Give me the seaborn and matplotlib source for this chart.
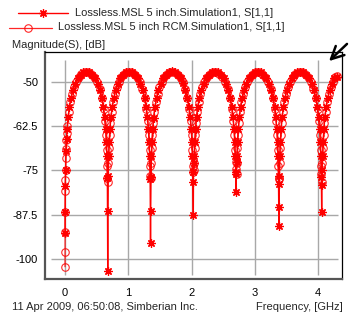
import matplotlib
matplotlib.use("Agg")
import matplotlib.pyplot as plt
from matplotlib.lines import Line2D
import pandas as pd
import seaborn as sns

# ---------------- data ----------------
label_msl = "Lossless.MSL 5 inch.Simulation1, S[1,1]"
label_rcm = "Lossless.MSL 5 inch RCM.Simulation1, S[1,1]"

freq_msl = [
    0.0012, 0.0023, 0.005, 0.009, 0.016, 0.024, 0.034, 0.050, 0.070, 0.095, 0.125, 0.160, 0.200, 0.245, 0.290,
    0.338, 0.386, 0.431, 0.476, 0.516, 0.551, 0.581, 0.606, 0.626, 0.642, 0.654, 0.662, 0.669, 0.675,
    0.678, 0.683, 0.690, 0.698, 0.710, 0.726, 0.746, 0.771, 0.801, 0.836, 0.876, 0.921, 0.966, 1.014, 1.062,
    1.107, 1.152, 1.192, 1.227, 1.257, 1.282, 1.302, 1.318, 1.330, 1.338, 1.345, 1.351,
    1.354, 1.359, 1.366, 1.374, 1.386, 1.402, 1.422, 1.447, 1.477, 1.512, 1.552, 1.597, 1.642, 1.690, 1.738,
    1.783, 1.828, 1.868, 1.903, 1.933, 1.958, 1.978, 1.994, 2.006, 2.014, 2.021, 2.027,
    2.030, 2.035, 2.042, 2.050, 2.062, 2.078, 2.098, 2.123, 2.153, 2.188, 2.228, 2.273, 2.318, 2.366, 2.414,
    2.459, 2.504, 2.544, 2.579, 2.609, 2.634, 2.654, 2.670, 2.682, 2.690, 2.697, 2.703,
    2.707, 2.711, 2.718, 2.726, 2.738, 2.754, 2.774, 2.799, 2.829, 2.864, 2.904, 2.949, 2.994, 3.042, 3.090,
    3.135, 3.180, 3.220, 3.255, 3.285, 3.310, 3.330, 3.346, 3.358, 3.366, 3.373, 3.379,
    3.382, 3.387, 3.394, 3.402, 3.414, 3.430, 3.450, 3.475, 3.505, 3.540, 3.580, 3.625, 3.670, 3.718, 3.766,
    3.811, 3.856, 3.896, 3.931, 3.961, 3.986, 4.006, 4.022, 4.034, 4.042, 4.049, 4.055,
    4.058, 4.063, 4.070, 4.078, 4.090, 4.106, 4.126, 4.151, 4.181, 4.216, 4.256, 4.292,
]
mag_msl = [
    -92.7, -86.6, -79.5, -74.9, -69.6, -66.2, -63.3, -60.0, -57.1, -54.6, -52.4, -50.6, -49.1, -48.0, -47.4,
    -47.2, -47.4, -48.0, -49.1, -50.6, -52.4, -54.6, -57.1, -60.0, -63.3, -67.0, -70.9, -77.0, -103.3,
    -86.4, -76.5, -70.9, -67.0, -63.3, -60.0, -57.1, -54.6, -52.4, -50.6, -49.1, -48.0, -47.4, -47.2, -47.4,
    -48.0, -49.1, -50.6, -52.4, -54.6, -57.1, -60.0, -63.3, -67.0, -70.9, -77.5, -95.3,
    -86.3, -76.8, -70.8, -67.1, -63.2, -60.1, -57.0, -54.6, -52.3, -50.6, -49.0, -48.0, -47.3, -47.1, -47.3,
    -48.0, -49.1, -50.5, -52.4, -54.5, -57.1, -60.0, -63.4, -67.0, -70.9, -78.1, -87.5,
    -75.5, -73.0, -70.9, -67.0, -63.3, -60.0, -57.1, -54.6, -52.4, -50.6, -49.1, -48.0, -47.4, -47.2, -47.4,
    -48.0, -49.1, -50.6, -52.4, -54.6, -57.1, -60.0, -63.3, -67.0, -70.9, -76.0, -81.1,
    -75.5, -72.5, -70.9, -67.0, -63.3, -60.0, -57.1, -54.6, -52.4, -50.6, -49.1, -48.0, -47.4, -47.2, -47.4,
    -48.0, -49.1, -50.6, -52.4, -54.6, -57.1, -60.0, -63.3, -67.0, -70.9, -78.9, -90.5,
    -85.2, -76.5, -70.9, -67.0, -63.3, -60.0, -57.1, -54.6, -52.4, -50.6, -49.1, -48.0, -47.4, -47.2, -47.4,
    -48.0, -49.1, -50.6, -52.4, -54.6, -57.1, -60.0, -63.3, -67.0, -70.9, -76.8, -86.6,
    -79.0, -75.0, -70.9, -67.0, -63.3, -60.0, -57.1, -54.6, -52.4, -50.6, -49.1, -48.7,
]

freq_rcm = [
    0.0004, 0.0006, 0.0012, 0.0023, 0.0045, 0.0065, 0.009, 0.013, 0.0175, 0.023, 0.029, 0.037,
    0.060, 0.083, 0.110, 0.140, 0.175, 0.215, 0.260, 0.310, 0.360, 0.410, 0.460, 0.505, 0.545, 0.580,
    0.610, 0.632, 0.648, 0.659, 0.666, 0.671,
    0.682, 0.687, 0.694, 0.704, 0.718, 0.736, 0.759, 0.786, 0.816, 0.851, 0.891, 0.936, 0.986, 1.036, 1.086,
    1.136, 1.181, 1.221, 1.256, 1.286, 1.308, 1.324, 1.335, 1.342, 1.347,
    1.358, 1.363, 1.370, 1.380, 1.394, 1.412, 1.435, 1.462, 1.492, 1.527, 1.567, 1.612, 1.662, 1.712, 1.762,
    1.812, 1.857, 1.897, 1.932, 1.962, 1.984, 2.000, 2.011, 2.018, 2.023,
    2.034, 2.039, 2.046, 2.056, 2.070, 2.088, 2.111, 2.138, 2.168, 2.203, 2.243, 2.288, 2.338, 2.388, 2.438,
    2.488, 2.533, 2.573, 2.608, 2.638, 2.660, 2.676, 2.687, 2.694, 2.699,
    2.710, 2.715, 2.722, 2.732, 2.746, 2.764, 2.787, 2.814, 2.844, 2.879, 2.919, 2.964, 3.014, 3.064, 3.114,
    3.164, 3.209, 3.249, 3.284, 3.314, 3.336, 3.352, 3.363, 3.370, 3.375,
    3.386, 3.391, 3.398, 3.408, 3.422, 3.440, 3.463, 3.490, 3.520, 3.555, 3.595, 3.640, 3.690, 3.740, 3.790,
    3.840, 3.885, 3.925, 3.960, 3.990, 4.012, 4.028, 4.039, 4.046, 4.051,
    4.062, 4.067, 4.074, 4.084, 4.098, 4.116, 4.139, 4.166, 4.196, 4.231, 4.271, 4.290,
]
mag_rcm = [
    -102.1, -97.9, -92.2, -86.6, -80.9, -77.6, -74.8, -71.5, -69.0, -66.5, -64.5, -62.6,
    -58.4, -55.7, -53.4, -51.6, -50.0, -48.7, -47.8, -47.3, -47.25, -47.7, -48.7, -50.1, -52.1, -54.5,
    -57.6, -61.1, -64.9, -69.3, -73.8, -77.0,
    -78.3, -73.0, -68.8, -64.9, -61.5, -58.4, -55.7, -53.4, -51.6, -50.0, -48.7, -47.8, -47.3, -47.25, -47.7,
    -48.7, -50.1, -52.1, -54.5, -57.6, -61.1, -64.9, -69.3, -73.8, -76.5,
    -77.0, -73.0, -68.8, -64.9, -61.5, -58.4, -55.7, -53.4, -51.6, -50.0, -48.7, -47.8, -47.3, -47.25, -47.7,
    -48.7, -50.1, -52.1, -54.5, -57.6, -61.1, -64.9, -69.3, -73.8, -75.5,
    -75.0, -73.0, -68.8, -64.9, -61.5, -58.4, -55.7, -53.4, -51.6, -50.0, -48.7, -47.8, -47.3, -47.25, -47.7,
    -48.7, -50.1, -52.1, -54.5, -57.6, -61.1, -64.9, -69.3, -72.5, -74.5,
    -76.0, -73.0, -68.8, -64.9, -61.5, -58.4, -55.7, -53.4, -51.6, -50.0, -48.7, -47.8, -47.3, -47.25, -47.7,
    -48.7, -50.1, -52.1, -54.5, -57.6, -61.1, -64.9, -69.3, -73.8, -77.0,
    -77.5, -73.0, -68.8, -64.9, -61.5, -58.4, -55.7, -53.4, -51.6, -50.0, -48.7, -47.8, -47.3, -47.25, -47.7,
    -48.7, -50.1, -52.1, -54.5, -57.6, -61.1, -64.9, -69.3, -73.8, -76.0,
    -78.3, -73.0, -68.8, -64.9, -61.5, -58.4, -55.7, -53.4, -51.6, -50.0, -48.7, -48.5,
]

x_ticks = [0, 1, 2, 3, 4]
x_tick_labels = ["0", "1", "2", "3", "4"]
y_ticks = [-50, -62.5, -75, -87.5, -100]
y_tick_labels = ["-50", "-62.5", "-75", "-87.5", "-100"]

y_title = "Magnitude(S), [dB]"
x_title = "Frequency, [GHz]"
footer = "11 Apr 2009, 06:50:08, Simberian Inc."

# ---------------- styling ----------------
sns.set_style("white")
plt.rcParams["font.family"] = ["Liberation Sans", "DejaVu Sans"]
plt.rcParams["axes.unicode_minus"] = False
FS = 8

W, H = 349, 317
fig = plt.figure(figsize=(W / 100, H / 100), dpi=100)
ax = fig.add_axes([45 / W, 1 - 279 / H, (342 - 45) / W, (279 - 52) / H])

RED = "#ff0000"
style_rcm = dict(color=RED, lw=0.9, marker="o", markersize=5.4, markerfacecolor="none",
                 markeredgecolor=RED, markeredgewidth=0.8, alpha=0.85)
style_msl = dict(color=RED, lw=1.0, marker=(8, 2, 0), markersize=6,
                 markeredgecolor=RED, markeredgewidth=0.9)

df_rcm = pd.DataFrame({"f": freq_rcm, "m": mag_rcm})
df_msl = pd.DataFrame({"f": freq_msl, "m": mag_msl})

sns.lineplot(data=df_rcm, x="f", y="m", ax=ax, estimator=None, sort=False, legend=False, **style_rcm)
sns.lineplot(data=df_msl, x="f", y="m", ax=ax, estimator=None, sort=False, legend=False, **style_msl)

ax.set_xlim(-0.316, 4.376)
ax.set_ylim(-105.55, -41.64)

# inset grid lines
GRID = "#a8a8a8"
ax.vlines(x_ticks, -104.4, -43.9, colors=GRID, lw=1.0, zorder=0)
ax.hlines(y_ticks, -0.221, 4.313, colors=GRID, lw=1.0, zorder=0)

ax.set_xticks(x_ticks)
ax.set_xticklabels(x_tick_labels, fontsize=FS)
ax.set_yticks(y_ticks)
ax.set_yticklabels(y_tick_labels, fontsize=FS)
ax.tick_params(axis="both", direction="inout", length=5, width=0.9, color="#222222",
               labelcolor="black", pad=2.5)
ax.tick_params(axis="x", pad=4)
ax.set_xlabel("")
ax.set_ylabel("")
for side in ["left", "bottom"]:
    ax.spines[side].set_color("#555555")
    ax.spines[side].set_linewidth(1.6)
for side in ["top", "right"]:
    ax.spines[side].set_color("black")
    ax.spines[side].set_linewidth(0.9)

# legend entries, drawn as in the original (each entry centred)
def legend_entry(x0, x1, xm, y, style, text, xt):
    yy = 1 - y / H
    line_style = {k: v for k, v in style.items() if not k.startswith("marker")}
    fig.add_artist(Line2D([x0 / W, x1 / W], [yy, yy], transform=fig.transFigure, **line_style))
    mk = dict(style)
    mk["lw"] = 0
    fig.add_artist(Line2D([xm / W], [yy], transform=fig.transFigure, **mk))
    fig.text(xt / W, yy, text, fontsize=FS, ha="left", va="center")

legend_entry(18, 68, 43, 12.5, style_msl, label_msl, 75)
legend_entry(9, 52, 28, 27.5, style_rcm, label_rcm, 58)

fig.text(12 / W, 1 - 45 / H, y_title, fontsize=FS, ha="left", va="center")
fig.text(12 / W, 1 - 307.5 / H, footer, fontsize=FS, ha="left", va="center")
fig.text(343 / W, 1 - 307.5 / H, x_title, fontsize=FS, ha="right", va="center")

# zoom cursor arrow in the corner
ax.annotate("", xy=(327 / W, 1 - 63 / H), xytext=(349 / W, 1 - 42 / H),
            xycoords="figure fraction", textcoords="figure fraction",
            arrowprops=dict(arrowstyle="->,head_length=0.9,head_width=0.45", color="black", lw=1.8),
            annotation_clip=False)

fig.savefig("out.png", dpi=100)
